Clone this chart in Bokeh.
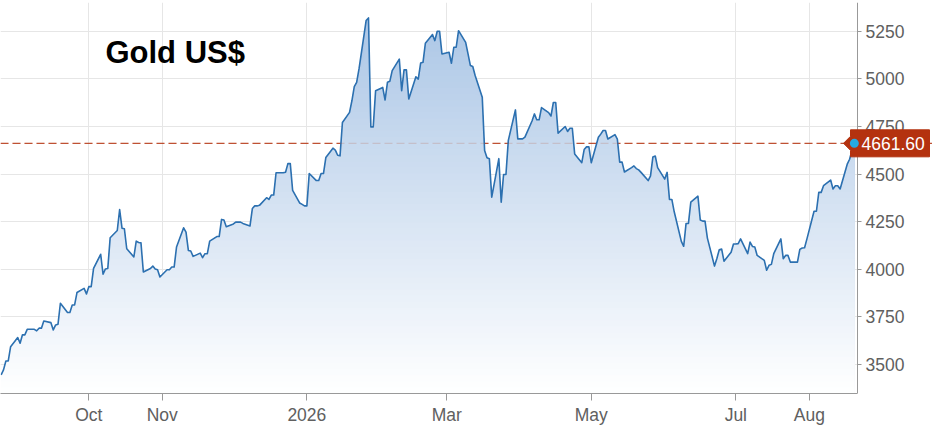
import numpy as np
import pandas as pd
from bokeh.embed import file_html
from bokeh.models import (BoxAnnotation, FixedTicker, Label, Range1d,
                          SingleIntervalTicker, Span)
from bokeh.plotting import figure
from bokeh.resources import INLINE

# gold close in US$, one value per business day from 2025-08-25
gold = [
    3446, 3472, 3519, 3519, 3594, 3642, 3612, 3656, 3656, 3685,
    3685, 3677, 3691, 3691, 3729, 3720, 3682, 3708, 3712, 3822,
    3773, 3773, 3813, 3813, 3878, 3900, 3871, 3909, 3909, 4005,
    4079, 3974, 4002,
    4004, 4166, 4204, 4314, 4216, 4213, 4108, 4065, 4148, 4141,
    4139, 3986, 4004, 4017, 4002, 3998, 3960, 3998, 3998, 4012,
    4012, 4117, 4218, 4195, 4099, 4096, 4068, 4085, 4061, 4082,
    4082, 4148,
    4172, 4172, 4262, 4259, 4224, 4238, 4248, 4248, 4248, 4241,
    4228, 4319, 4333, 4333, 4336, 4376, 4367, 4390, 4390, 4507,
    4507, 4510, 4555, 4555, 4414, 4348, 4341, 4333, 4333, 4503,
    4466, 4466,
    4503, 4503, 4587, 4636, 4626, 4599, 4596, 4771, 4824, 4885,
    4959, 4982, 5052, 5306, 5320, 4748, 4748, 4938, 4955, 4889,
    4982, 4987, 5043, 5104, 4938, 5047, 5047, 4894, 5011, 4999,
    5083, 5087,
    5187, 5233, 5201, 5250, 5250, 5131, 5140, 5082, 5166, 5166,
    5253, 5192, 5131, 5070, 5065, 5018, 4904, 4624, 4586, 4581,
    4379, 4581, 4353, 4498, 4498, 4677, 4837, 4685, 4685, 4685,
    4694,
    4779, 4816, 4785, 4785, 4849, 4823, 4805, 4876, 4876, 4715,
    4750, 4724, 4741, 4741, 4606, 4560, 4629, 4643, 4643, 4560,
    4693, 4710, 4729, 4729, 4684, 4707, 4684, 4563, 4563, 4511,
    4534, 4543,
    4529, 4522, 4509, 4466, 4491, 4590, 4595, 4534, 4474, 4509,
    4367, 4367, 4302, 4147, 4121, 4241, 4241, 4353, 4384, 4259,
    4253, 4253, 4164, 4017, 4057, 4103, 4107, 4043, 4090, 4133,
    4133,
    4135, 4160, 4082, 4143, 4120, 4117, 4073, 4047, 3995, 4021,
    4026, 4082, 4160, 4056, 4073, 4073, 4038, 4038, 4105, 4112,
    4113, 4160, 4305, 4305, 4404, 4404, 4439, 4469, 4422, 4439,
    4439, 4422, 4552, 4578, 4625, 4661.60,
]
first_day = "2025-08-25"
last_price = 4661.60

month_ticks = ["2025-10-01", "2025-11-01", "2026-01-01", "2026-03-01",
               "2026-05-01", "2026-07-01", "2026-08-01"]
month_labels = ["Oct", "Nov", "2026", "Mar", "May", "Jul", "Aug"]

title_text = "Gold US$"

FONT = "Liberation Sans"
LINE_BLUE = "#2c70b0"
TAG_RED = "#b4320f"
DOT_BLUE = "#27aae1"
CANVAS_W = 932
AXIS_X = 857          # where the price axis sits, in px from the left
FRAME_H = 391

days = pd.bdate_range(first_day, periods=len(gold))
close = np.array(gold, dtype=float)

# the frame runs under the price axis too, so the price tag is not clipped
x_start = pd.Timestamp("2025-08-24 17:30")
x_end = pd.Timestamp("2026-08-21 08:00")
x_far = x_end + (x_end - x_start) * (CANVAS_W - AXIS_X) / AXIS_X
y_lo, y_hi = 3348, 5401

p = figure(frame_width=CANVAS_W, frame_height=FRAME_H, x_axis_type="datetime",
           y_axis_location="right",
           x_range=Range1d(x_start, x_far), y_range=Range1d(y_lo, y_hi),
           output_backend="svg", toolbar_location=None,
           min_border_left=0, min_border_top=2, min_border_right=0,
           min_border_bottom=37,
           background_fill_color="white", border_fill_color="white",
           outline_line_color=None)

x_end_ms = x_end.value / 1e6
px_x = (x_end - x_start).total_seconds() * 1000 / AXIS_X
px_y = (y_hi - y_lo) / FRAME_H

# keep the horizontal grid left of the price axis
p.add_layout(BoxAnnotation(left=x_end_ms, fill_color="white", fill_alpha=1,
                           line_color=None, level="underlay"))

# vertical gradient under the curve: stacked areas, each one cut lower
n_layers = 64
fill_top = np.array([168, 196, 229])
fill_bottom = np.array([255, 255, 255])
for i, level_top in enumerate(np.linspace(y_hi, y_lo, n_layers, endpoint=False)):
    rgb = (fill_top + (fill_bottom - fill_top) * (i + 0.5) / n_layers).round().astype(int)
    p.varea(x=days, y1=y_lo - 100, y2=np.minimum(close, level_top),
            fill_color="#%02x%02x%02x" % tuple(rgb))

p.line(days, close, line_color=LINE_BLUE, line_width=1.6, line_join="round")

# last price line: full red under the fill, faint over it
p.add_layout(Span(location=last_price, dimension="width", line_color=TAG_RED,
                  line_width=1, line_dash="8 4", level="underlay"))
p.add_layout(Span(location=last_price, dimension="width", line_color=TAG_RED,
                  line_alpha=0.2, line_width=1, line_dash="8 4"))

# price tag: box with a pointer, shape given in px around (axis, last price)
tag_dx = [-14, -7, -7, 72, 72, -7, -7]
tag_dy = [0, -7, -13.5, -13.5, 13.5, 13.5, 7]
p.patch(x=[x_end_ms + dx * px_x for dx in tag_dx],
        y=[last_price - dy * px_y for dy in tag_dy],
        fill_color=TAG_RED, line_color=TAG_RED, line_width=1, line_join="round",
        level="overlay")
p.scatter(x=[days[-1]], y=[last_price], size=9, fill_color=DOT_BLUE,
          line_color=None, level="overlay")
p.add_layout(Label(x=x_end_ms, y=last_price, x_offset=4, text=f"{last_price:.2f}",
                   text_font=FONT, text_font_size="17.5px", text_color="white",
                   text_align="left", text_baseline="middle", level="overlay"))

p.add_layout(Label(x=pd.Timestamp("2025-10-08").value / 1e6, y=5138, text=title_text,
                   text_font=FONT, text_font_style="bold", text_font_size="31px",
                   text_color="black", text_baseline="alphabetic"))

tick_ms = [pd.Timestamp(d).value / 1e6 for d in month_ticks]
p.xaxis.ticker = FixedTicker(ticks=tick_ms)
p.xaxis.major_label_overrides = dict(zip(tick_ms, month_labels))
p.xaxis.bounds = (x_start.value / 1e6, x_end_ms)
p.yaxis.ticker = SingleIntervalTicker(interval=250, num_minor_ticks=0)
p.yaxis.fixed_location = x_end_ms

for ax in (p.xaxis, p.yaxis):
    ax.axis_line_color = "#999999"
    ax.major_tick_line_color = "#999999"
    ax.minor_tick_line_color = None
    ax.major_tick_in = 0
    ax.major_label_text_font = FONT
    ax.major_label_text_font_size = "17.5px"
    ax.major_label_text_color = "#606060"
p.xaxis.major_tick_out = 7
p.xaxis.major_label_standoff = 4
p.yaxis.major_tick_out = 4
p.yaxis.major_label_standoff = 4

p.xgrid.grid_line_color = "#e6e6e6"
p.ygrid.grid_line_color = "#e6e6e6"

open("out.html", "w").write(file_html(p, INLINE))
